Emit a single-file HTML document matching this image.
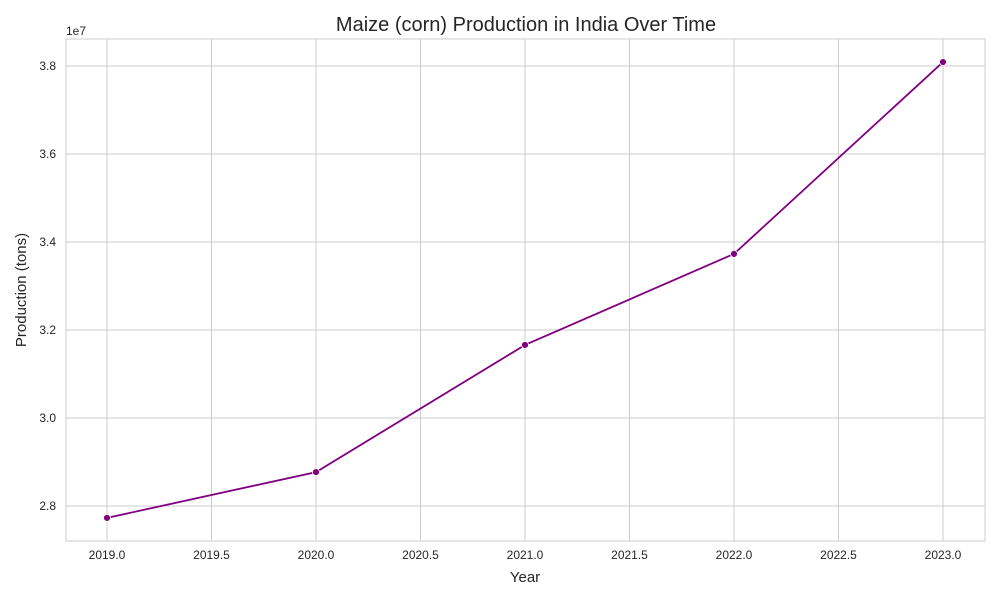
<!DOCTYPE html>
<html><head><meta charset="utf-8"><style>
body{margin:0;background:#fff;}
svg text{font-family:"Liberation Sans",sans-serif;fill:#262626;}
</style></head><body>
<svg id="chart" width="1000" height="600">
<rect width="1000" height="600" fill="#fff"/>
<text x="526" y="31" text-anchor="middle" font-size="20">Maize (corn) Production in India Over Time</text>
<g id="grid"></g>
<rect x="66" y="39" width="919" height="502" fill="none" stroke="#cccccc" stroke-width="1"/>
<g id="xt"></g><g id="yt"></g>
<text x="66" y="35" font-size="12">1e7</text>
<text x="525" y="582" text-anchor="middle" font-size="15">Year</text>
<text transform="translate(26,290) rotate(-90)" text-anchor="middle" font-size="15">Production (tons)</text>
<g id="series"></g>
</svg>
<script>
const years=[2019,2020,2021,2022,2023];
const production=[27.73e6,28.77e6,31.66e6,33.73e6,38.09e6];
const xTicks=[2019,2019.5,2020,2020.5,2021,2021.5,2022,2022.5,2023];
const yTicks=[2.8e7,3.0e7,3.2e7,3.4e7,3.6e7,3.8e7];
const X=v=>107+(v-2019)*209;
const Y=v=>506-(v-2.8e7)/1e7*440;
const NS="http://www.w3.org/2000/svg";
const mk=(t,a,p)=>{const e=document.createElementNS(NS,t);for(const k in a)e.setAttribute(k,a[k]);p.appendChild(e);return e;};
const grid=document.getElementById('grid'),xt=document.getElementById('xt'),yt=document.getElementById('yt'),s=document.getElementById('series');
xTicks.forEach(v=>{
 const l=mk('line',{x1:X(v),x2:X(v),y1:39,y2:541,stroke:'#cccccc'},grid);
 
 
 const t=mk('text',{x:X(v),y:559,'text-anchor':'middle','font-size':12},xt);
 t.textContent=v.toFixed(1);
 
 
});
yTicks.forEach(v=>{
 const l=mk('line',{x1:66,x2:985,y1:Y(v),y2:Y(v),stroke:'#cccccc'},grid);
 
 
 const t=mk('text',{x:56,y:Y(v)+4,'text-anchor':'end','font-size':12},yt);
 t.textContent=(v/1e7).toFixed(1);
 
 
});
const pl=mk('polyline',{points:years.map((y,i)=>X(y)+','+Y(production[i])).join(' '),fill:'none',stroke:'#800080','stroke-width':1.8},s);


years.forEach((y,i)=>{
 const c=mk('circle',{cx:X(y),cy:Y(production[i]),r:3.5,fill:'#800080',stroke:'#fff','stroke-width':0.8},s);
 
 
});
</script>
</body></html>
